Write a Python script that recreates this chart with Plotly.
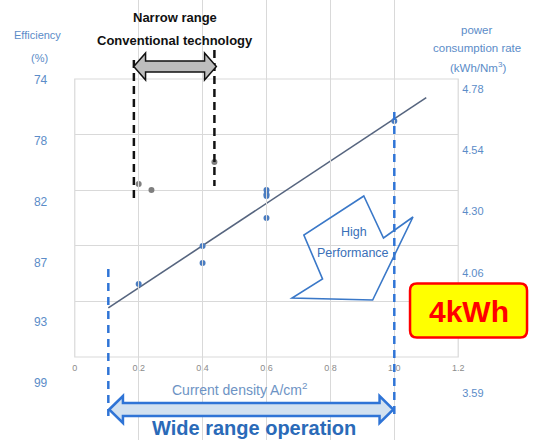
import plotly.graph_objects as go

# ---------------- data ----------------
current_conventional = [0.20, 0.24, 0.437]
power_conventional = [4.331, 4.305, 4.425]

current_new = [0.20, 0.40, 0.40, 0.60, 0.60, 0.60, 0.60, 1.00]
power_new = [3.902, 4.065, 3.992, 4.305, 4.287, 4.279, 4.185, 4.600]

trend_current = [0.105, 1.10]
trend_power = [3.80, 4.70]

x_tickvals = [0, 0.2, 0.4, 0.6, 0.8, 1.0, 1.2]
x_ticktext = ["0", "0.2", "0.4", "0.6", "0.8", "1.0", "1.2"]

power_ticks = [4.78, 4.54, 4.30, 4.06, 3.83, 3.59]
efficiency_ticktext = ["74", "78", "82", "87", "93", "99"]
# 3.83 is hidden behind the 4kWh badge in the reference
power_ticks_right = [4.78, 4.54, 4.30, 4.06, 3.59]
power_ticktext = ["4.78", "4.54", "4.30", "4.06", "3.59"]

narrow_range = [0.185, 0.437]     # conventional operating range (A/cm2)
wide_range = [0.105, 1.00]        # wide range operation (A/cm2)

# ---------------- layout helpers (pixel -> paper) ----------------
W, H = 535, 440
def PX(px):
    return px / W
def PY(py):
    return (H - py) / H

def double_arrow(x0, x1, yc, bh, hh, hl):
    pts = [(x0, yc), (x0 + hl, yc - hh), (x0 + hl, yc - bh), (x1 - hl, yc - bh),
           (x1 - hl, yc - hh), (x1, yc), (x1 - hl, yc + hh), (x1 - hl, yc + bh),
           (x0 + hl, yc + bh), (x0 + hl, yc + hh)]
    return "M " + " L ".join(f"{PX(a):.5f},{PY(b):.5f}" for a, b in pts) + " Z"

def polygon(pts):
    return "M " + " L ".join(f"{PX(a):.5f},{PY(b):.5f}" for a, b in pts) + " Z"

def rounded_rect(x0, y0, x1, y1, r):
    p = lambda a, b: f"{PX(a):.5f},{PY(b):.5f}"
    return (f"M {p(x0 + r, y0)} L {p(x1 - r, y0)} Q {p(x1, y0)} {p(x1, y0 + r)} "
            f"L {p(x1, y1 - r)} Q {p(x1, y1)} {p(x1 - r, y1)} L {p(x0 + r, y1)} "
            f"Q {p(x0, y1)} {p(x0, y1 - r)} L {p(x0, y0 + r)} Q {p(x0, y0)} {p(x0 + r, y0)} Z")

FONT = "Liberation Sans, Arial, sans-serif"
LABEL_BLUE = "#5b8cc8"
GRID = "#d9d9d9"
DASH_BLUE = "#2f74d6"

fig = go.Figure()

fig.add_trace(go.Scatter(x=trend_current, y=trend_power, mode="lines",
                         line=dict(color="#56657f", width=1.6), showlegend=False, hoverinfo="skip"))
fig.add_trace(go.Scatter(x=current_conventional, y=power_conventional, mode="markers",
                         marker=dict(color="#7f7f7f", size=6), showlegend=False))
fig.add_trace(go.Scatter(x=current_new, y=power_new, mode="markers",
                         marker=dict(color="#4a7cc0", size=6), showlegend=False))
# carriers for the two label axes
fig.add_trace(go.Scatter(x=[None], y=[None], yaxis="y2", showlegend=False, hoverinfo="skip"))
fig.add_trace(go.Scatter(x=[None], y=[None], yaxis="y3", showlegend=False, hoverinfo="skip"))

shapes = []
shapes.append(dict(type="rect", xref="x domain", yref="y domain", x0=0, x1=1, y0=0, y1=1,
                   line=dict(color=GRID, width=1.2), layer="below"))
shapes.append(dict(type="line", xref="x", yref="paper", x0=wide_range[0], x1=wide_range[0],
                   y0=PY(269), y1=PY(416), line=dict(color=DASH_BLUE, width=2.5, dash="8px,6px")))
shapes.append(dict(type="line", xref="x", yref="paper", x0=wide_range[1], x1=wide_range[1],
                   y0=PY(112), y1=PY(414), line=dict(color=DASH_BLUE, width=2.5, dash="8px,6px")))
shapes.append(dict(type="line", xref="x", yref="paper", x0=narrow_range[0], x1=narrow_range[0],
                   y0=PY(60), y1=PY(201), line=dict(color="#111111", width=2.5, dash="8px,5px")))
shapes.append(dict(type="line", xref="x", yref="paper", x0=narrow_range[1], x1=narrow_range[1],
                   y0=PY(50), y1=PY(186), line=dict(color="#111111", width=2.5, dash="8px,5px")))
shapes.append(dict(type="path", xref="paper", yref="paper",
                   path=double_arrow(133, 217, 66.5, 5.5, 13.5, 12),
                   fillcolor="#bdbdbd", line=dict(color="#111111", width=1.5), layer="above"))
shapes.append(dict(type="path", xref="paper", yref="paper",
                   path=double_arrow(108, 397, 409.5, 6.5, 13.5, 14),
                   fillcolor="#d2e1f0", line=dict(color=DASH_BLUE, width=2.5), layer="above"))
shapes.append(dict(type="path", xref="paper", yref="paper",
                   path=polygon([(367, 196), (387, 238), (417, 217), (376, 300),
                                 (294, 298), (325, 279), (306, 235)]),
                   line=dict(color="#3a78c8", width=1.6), layer="above"))
shapes.append(dict(type="path", xref="paper", yref="paper",
                   path=rounded_rect(414, 283.5, 533, 337.5, 7),
                   fillcolor="#ffff00", line=dict(color="#ff0000", width=2.5), layer="above"))

annotations = [
    dict(text="Efficiency", x=PX(35), y=PY(35), font=dict(size=11, color=LABEL_BLUE)),
    dict(text="(%)", x=PX(37), y=PY(58), font=dict(size=11, color=LABEL_BLUE)),
    dict(text="power", x=PX(482), y=PY(30), font=dict(size=11.5, color=LABEL_BLUE)),
    dict(text="consumption rate", x=PX(482), y=PY(48), font=dict(size=11.5, color=LABEL_BLUE)),
    dict(text="(kWh/Nm<sup>3</sup>)", x=PX(483), y=PY(67), font=dict(size=11.5, color=LABEL_BLUE)),
    dict(text="<b>Narrow range</b>", x=PX(175), y=PY(17), font=dict(size=13, color="#111111")),
    dict(text="<b>Conventional technology</b>", x=PX(175), y=PY(40), font=dict(size=13, color="#111111")),
    dict(text="High", x=PX(357), y=PY(232), font=dict(size=12.5, color="#3a70b8")),
    dict(text="Performance", x=PX(356), y=PY(253), font=dict(size=12.5, color="#3a70b8")),
    dict(text="<b>4kWh</b>", x=PX(474), y=PY(311), font=dict(size=30, color="#ff0000")),
    dict(text="Current density A/cm<sup>2</sup>", x=PX(241), y=PY(389), font=dict(size=14, color="#6d93c4")),
    dict(text="<b>Wide range operation</b>", x=PX(255), y=PY(428), font=dict(size=20, color="#2a6ab8")),
]
for a in annotations:
    a.update(xref="paper", yref="paper", showarrow=False, xanchor="center", yanchor="middle")

fig.update_layout(
    width=W, height=H,
    margin=dict(l=0, r=0, t=0, b=0),
    paper_bgcolor="white", plot_bgcolor="rgba(0,0,0,0)",
    font=dict(family=FONT),
    showlegend=False,
    xaxis=dict(domain=[PX(73), PX(463)], range=[0, 1.2], tickvals=x_tickvals, ticktext=x_ticktext,
               showgrid=True, gridcolor=GRID, zeroline=False, showline=False, anchor="y",
               ticklabelstandoff=4, tickfont=dict(size=9, color="#8c8c8c")),
    yaxis=dict(domain=[PY(357), PY(79)], range=[3.59, 4.78], tick0=3.59, dtick=0.238,
               showgrid=True, gridcolor=GRID, zeroline=False, showticklabels=False, showline=False),
    yaxis2=dict(domain=[0, 1], range=[3.366, 5.094], tickvals=power_ticks, ticktext=efficiency_ticktext,
                anchor="free", position=PX(45), side="left", showgrid=False, zeroline=False,
                showline=False, tickfont=dict(size=12, color=LABEL_BLUE)),
    yaxis3=dict(domain=[0, 1], range=[3.406, 5.128], tickvals=power_ticks_right, ticktext=power_ticktext,
                anchor="free", position=PX(466), side="right", showgrid=False, zeroline=False,
                showline=False, tickfont=dict(size=11, color=LABEL_BLUE)),
    shapes=shapes,
    annotations=annotations,
)

fig.write_html("out.html", config={"displayModeBar": False},
               post_script="document.body.style.margin='0';document.body.style.overflow='hidden';")
